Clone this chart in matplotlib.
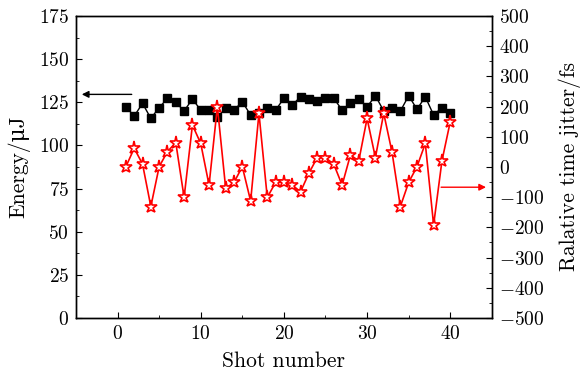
import numpy as np
import matplotlib
matplotlib.use('Agg')
import matplotlib.pyplot as plt
from matplotlib.ticker import MultipleLocator

plt.rcParams['font.family'] = ['cmr10', 'DejaVu Serif']
plt.rcParams['mathtext.fontset'] = 'cm'
plt.rcParams['axes.formatter.use_mathtext'] = True
plt.rcParams['font.size'] = 14

# Shot data
shots = np.arange(1, 41)
energy = [122.4, 117.0, 124.4, 115.7, 121.9, 127.3, 125.0, 120.0, 126.9, 120.5,
          120.5, 116.3, 121.5, 120.5, 125.3, 117.6, 118.6, 121.5, 120.5, 127.3,
          123.4, 128.2, 126.7, 125.7, 127.6, 127.3, 120.5, 124.4, 126.9, 122.4,
          128.8, 120.0, 121.5, 119.9, 128.8, 121.0, 128.2, 117.6, 121.9, 118.6]
jitter = [1, 62, 10, -131, 1, 51, 81, -101, 139, 78,
          -60, 200, -71, -51, 1, -113, 178, -101, -51, -51,
          -60, -82, -21, 31, 31, 9, -60, 40, 20, 161,
          31, 178, 49, -131, -51, 1, 78, -192, 20, 150]

fig = plt.figure(figsize=(5.8, 3.74), dpi=100)
ax = fig.add_axes([0.131, 0.150, 0.717, 0.807])
ax2 = ax.twinx()

ax.plot(shots, energy, 'k-', lw=1, marker='s', ms=6, zorder=3)
ax2.plot(shots, jitter, color='red', lw=1.2, marker='*', ms=9.5,
         mfc='white', mec='red', mew=1.2)

ax.set_xlim(-5, 45)
ax.set_ylim(0, 175)
ax2.set_ylim(-500, 500)

ax.xaxis.set_major_locator(MultipleLocator(10))
ax.xaxis.set_minor_locator(MultipleLocator(5))
ax.yaxis.set_major_locator(MultipleLocator(25))
ax.yaxis.set_minor_locator(MultipleLocator(12.5))
ax2.yaxis.set_major_locator(MultipleLocator(100))
ax2.yaxis.set_minor_locator(MultipleLocator(50))

for a in (ax, ax2):
    a.tick_params(which='both', direction='in', labelsize=14, pad=5)
    a.tick_params(which='major', length=4)
    a.tick_params(which='minor', length=2.5)
    for s in a.spines.values():
        s.set_linewidth(1.0)

ax.set_xlabel('Shot number', fontsize=15.5, labelpad=6)
ax.set_ylabel('Energy/μJ', fontsize=15.5, labelpad=6)
ax2.set_ylabel('Ralative time jitter/fs', fontsize=15.5, labelpad=10)

# Arrows pointing to the matching axes
ax.annotate('', xy=(-4.3, 129.6), xytext=(1.7, 129.6),
            arrowprops=dict(arrowstyle='-|>', color='black', lw=1,
                            mutation_scale=10, shrinkA=0, shrinkB=0))
ax2.annotate('', xy=(44.3, -67), xytext=(38.9, -67),
             arrowprops=dict(arrowstyle='-|>', color='red', lw=1,
                             mutation_scale=10, shrinkA=0, shrinkB=0))

fig.savefig('out.png', dpi=100)
